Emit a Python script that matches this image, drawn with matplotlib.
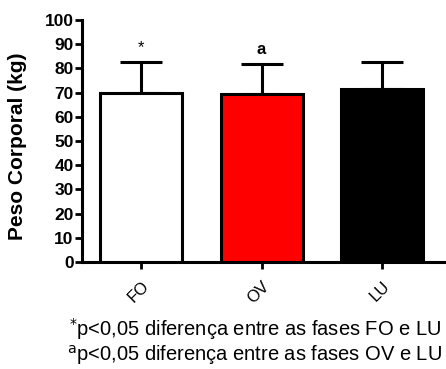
import matplotlib
matplotlib.use('Agg')
import matplotlib.pyplot as plt

plt.rcParams['font.family'] = ['Liberation Sans', 'DejaVu Sans']

fases = ['FO', 'OV', 'LU']
peso = [69.9, 69.3, 71.3]
dp = [12.6, 12.4, 11.2]
cores = ['white', 'red', 'black']
marcas = ['*', 'a', '']

fig = plt.figure(figsize=(4.46, 3.69), dpi=100)
ax = fig.add_axes([0.184, 0.29, 0.816, 0.656])

x = list(range(len(fases)))
ax.bar(x, peso, width=0.68, color=cores, edgecolor='black', linewidth=2.2, zorder=3)
ax.errorbar(x, peso, yerr=[[0] * 3, dp], fmt='none', ecolor='black',
            elinewidth=2.2, capsize=15, capthick=2.2, zorder=2)

for xi, p, e, m in zip(x, peso, dp, marcas):
    if m:
        ax.text(xi, p + e + 3, m, ha='center', va='bottom', fontsize=12,
                fontweight='bold' if m == 'a' else 'normal')

ax.set_xlim(-0.49, 2.53)
ax.set_ylim(0, 100)
ax.set_yticks(range(0, 101, 10))
ax.set_xticks(x)
ax.set_xticklabels(fases, rotation=45, fontsize=12, ha='right', va='top',
                   rotation_mode='anchor')
for lab in ax.get_yticklabels():
    lab.set_fontweight('bold')
    lab.set_fontsize(12.5)

ax.spines['top'].set_visible(False)
ax.spines['right'].set_visible(False)
ax.spines['left'].set_linewidth(2.2)
ax.spines['bottom'].set_linewidth(2.2)
ax.tick_params(width=2, length=5, pad=1)
ax.tick_params(axis='x', pad=7)
ax.set_ylabel('Peso Corporal (kg)', fontsize=15, fontweight='bold')
ax.yaxis.set_label_coords(-0.15, 0.48)

fig.text(0.99, 0.108, r'$^{*}$p<0,05 diferença entre as fases FO e LU',
         ha='right', va='center', fontsize=14.5)
fig.text(0.99, 0.038, r'$^{\mathrm{a}}$p<0,05 diferença entre as fases OV e LU',
         ha='right', va='center', fontsize=14.5)

plt.savefig('out.png', dpi=100)
